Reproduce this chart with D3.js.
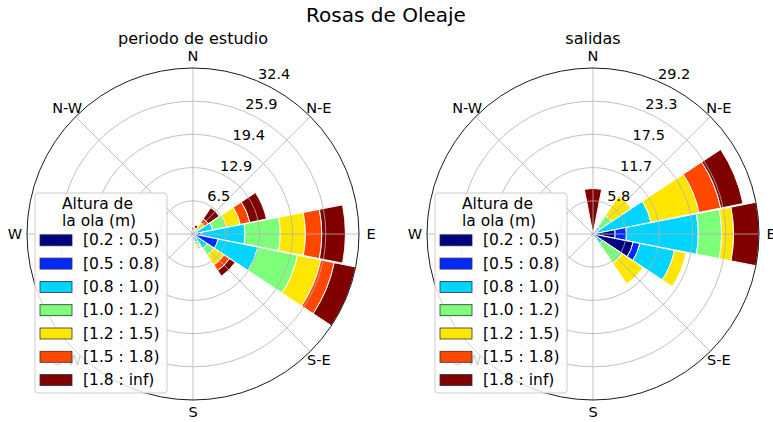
<!DOCTYPE html>
<html>
<head>
<meta charset="utf-8">
<script src="https://cdn.jsdelivr.net/npm/d3@7"></script>
<style>
  body { margin: 0; background: #fff; }
  svg { display: block; font-family: "DejaVu Sans", sans-serif; }
</style>
</head>
<body>
<svg id="chart" width="773" height="422"></svg>
<script>
// 16 compass sectors, clockwise from north
const direcciones = ["N","NNE","NE","ENE","E","ESE","SE","SSE","S","SSW","SW","WSW","W","WNW","NW","NNW"];
// compass labels every 45 degrees
const etiquetasRumbo = ["N","N-E","E","S-E","S","S-W","W","N-W"];
// wave height classes and their colours (jet colormap)
const rangosAltura = ["[0.2 : 0.5)","[0.5 : 0.8)","[0.8 : 1.0)","[1.0 : 1.2)","[1.2 : 1.5)","[1.5 : 1.8)","[1.8 : inf)"];
const coloresAltura = ["#000080","#0028ff","#00d4ff","#7dff7a","#ffe600","#ff4700","#800000"];

// frequency (%) per height class (rows) and direction (columns) - whole study period
const frecEstudio = [
  [0,    0,    0,   0.1, 0.4,  0.5,  0.2, 0.1, 0,   0,    0,    0,    0,   0,    0,    0   ],
  [0,    0.05, 0.1, 0.5, 1.2,  4.5,  0.4, 0.3, 0.1, 0.05, 0.05, 0.05, 0.1, 0.05, 0.05, 0.05],
  [0.1,  0.15, 0.5, 3.3, 8.55, 7.9,  2.8, 1.2, 0.2, 0.1,  0.1,  0.1,  0.1, 0.1,  0.1,  0.1 ],
  [0.1,  0.3,  0.9, 2.7, 6.85, 7.9,  1.6, 0.6, 0.2, 0.05, 0.05, 0.05, 0.1, 0.1,  0.1,  0.1 ],
  [0.2,  0.4,  1.2, 2.8, 4.9,  4.6,  2.3, 0.4, 0.1, 0,    0,    0,    0.1, 0.05, 0.1,  0.1 ],
  [0.3,  0.3,  0.9, 1.9, 3.2,  2.7,  1.3, 0.2, 0.1, 0,    0,    0,    0,   0,    0.1,  0.1 ],
  [0.6,  0.6,  2.6, 3.3, 4.6,  4.25, 1.3, 0.2, 0.1, 0,    0,    0,    0,   0,    0.05, 0.15]
];
// frequency (%) per height class and direction - outings
const frecSalidas = [
  [0, 0, 0.3, 0.1, 3.9,  7.2, 0.5, 0,   0, 0, 0, 0, 0, 0, 0, 0],
  [0, 0, 0.5, 0.5, 2.0,  1.2, 0.5, 0.1, 0, 0, 0, 0, 0, 0, 0, 0],
  [0, 0, 0.7, 9.8, 12.6, 6.2, 1.0, 0.5, 0, 0, 0, 0, 0, 0, 0, 0],
  [0, 0, 2.4, 0,   4.1,  0,   4.2, 0,   0, 0, 0, 0, 0, 0, 0, 0],
  [0, 0, 4.2, 8.6, 2.1,  2.1, 4.4, 0,   0, 0, 0, 0, 0, 0, 0, 0],
  [0, 0, 0,   3.9, 0,    0,   0,   0,   0, 0, 0, 0, 0, 0, 0, 0],
  [8.0, 0, 0, 4.0, 4.46, 0,   0,   0,   0, 0, 0, 0, 0, 0, 0, 0]
];
// radial tick labels
const ticksEstudio = ["6.5","12.9","19.4","25.9","32.4"];
const ticksSalidas = ["5.8","11.7","17.5","23.3","29.2"];

const titulo = "Rosas de Oleaje";
const tituloLeyenda = ["Altura de", "la ola (m)"];

const svg = d3.select("#chart");
const R = 166;          // outer radius of each rose
const apertura = 0.98;  // fraction of the sector covered by a bar
const rad = Math.PI / 180;

svg.append("text")
  .attr("x", 386).attr("y", 21.5)
  .attr("text-anchor", "middle")
  .attr("font-size", 20)
  .attr("fill", "#000")
  .text(titulo);

function rosa(cx, cy, subtitulo, frec, ticks) {
  const g = svg.append("g").attr("transform", `translate(${cx},${cy})`);
  const nDir = direcciones.length;
  const sector = 2 * Math.PI / nDir;

  // stack the classes per direction
  const stacked = d3.range(nDir).map(j => {
    let acc = 0;
    return frec.map((row, i) => {
      const y0 = acc; acc += row[j];
      return { dir: j, cls: i, y0, y1: acc };
    });
  });
  const totals = stacked.map(s => s[s.length - 1].y1);
  const rmax = d3.max(totals);
  const r = d3.scaleLinear().domain([0, rmax]).range([0, R]);

  const arc = d3.arc()
    .innerRadius(d => r(d.y0))
    .outerRadius(d => r(d.y1))
    .startAngle(d => d.dir * sector - sector * apertura / 2)
    .endAngle(d => d.dir * sector + sector * apertura / 2);

  // bars
  g.append("g").selectAll("path")
    .data(stacked.flat().filter(d => d.y1 > d.y0))
    .join("path")
    .attr("d", arc)
    .attr("fill", d => coloresAltura[d.cls])
    .attr("stroke", "#fff")
    .attr("stroke-width", 1);

  // grid drawn above the bars
  const grid = g.append("g").attr("fill", "none").attr("stroke", "#b0b0b0").attr("stroke-width", 0.8);
  const ringVals = d3.range(1, ticks.length).map(i => rmax * i / ticks.length);
  grid.selectAll("circle").data(ringVals).join("circle").attr("r", d => r(d));
  grid.selectAll("line").data(d3.range(8)).join("line")
    .attr("x1", 0).attr("y1", 0)
    .attr("x2", k => R * Math.sin(k * 45 * rad))
    .attr("y2", k => -R * Math.cos(k * 45 * rad));

  // outer spine
  g.append("circle").attr("r", R).attr("fill", "none").attr("stroke", "#000").attr("stroke-width", 0.9);

  // compass labels
  g.append("g").selectAll("text").data(etiquetasRumbo).join("text")
    .attr("x", (d, k) => 178 * Math.sin(k * 45 * rad))
    .attr("y", (d, k) => -178 * Math.cos(k * 45 * rad))
    .attr("text-anchor", "middle")
    .attr("dominant-baseline", "central")
    .attr("font-size", 14.5)
    .attr("fill", "#000")
    .text(d => d);

  // radial tick labels along 22.5 degrees
  const a = 22.5 * rad;
  g.append("g").selectAll("text").data(ticks).join("text")
    .attr("x", (d, i) => r(rmax * (i + 1) / ticks.length) * Math.sin(a) + 1.5)
    .attr("y", (d, i) => -r(rmax * (i + 1) / ticks.length) * Math.cos(a) - 2)
    .attr("font-size", 14.5)
    .attr("fill", "#000")
    .text(d => d);

  // subtitle
  svg.append("text")
    .attr("x", cx).attr("y", 44)
    .attr("text-anchor", "middle")
    .attr("font-size", 16)
    .attr("fill", "#000")
    .text(subtitulo);

  // legend
  const lx = cx - 158, ly = 193, lw = 132, lh = 200;
  const lg = svg.append("g").attr("transform", `translate(${lx},${ly})`);
  lg.append("rect")
    .attr("width", lw).attr("height", lh).attr("rx", 3)
    .attr("fill", "#fff").attr("fill-opacity", 0.8)
    .attr("stroke", "#cccccc").attr("stroke-width", 1);
  lg.append("g").selectAll("text").data(tituloLeyenda).join("text")
    .attr("x", 27).attr("y", (d, i) => 16 + i * 17)
    .attr("font-size", 15.5)
    .attr("fill", "#000")
    .text(d => d);
  const rows = lg.append("g").selectAll("g").data(rangosAltura).join("g")
    .attr("transform", (d, i) => `translate(0,${47.3 + i * 23.3})`);
  rows.append("rect")
    .attr("x", 5).attr("y", -5.5).attr("width", 32).attr("height", 11)
    .attr("fill", (d, i) => coloresAltura[i])
    .attr("stroke", "#333").attr("stroke-width", 0.8);
  rows.append("text")
    .attr("x", 48).attr("y", 0)
    .attr("dominant-baseline", "central")
    .attr("font-size", 15.5)
    .attr("fill", "#000")
    .text(d => d);
}

rosa(193, 234, "periodo de estudio", frecEstudio, ticksEstudio);
rosa(593, 234, "salidas", frecSalidas, ticksSalidas);
</script>
</body>
</html>
